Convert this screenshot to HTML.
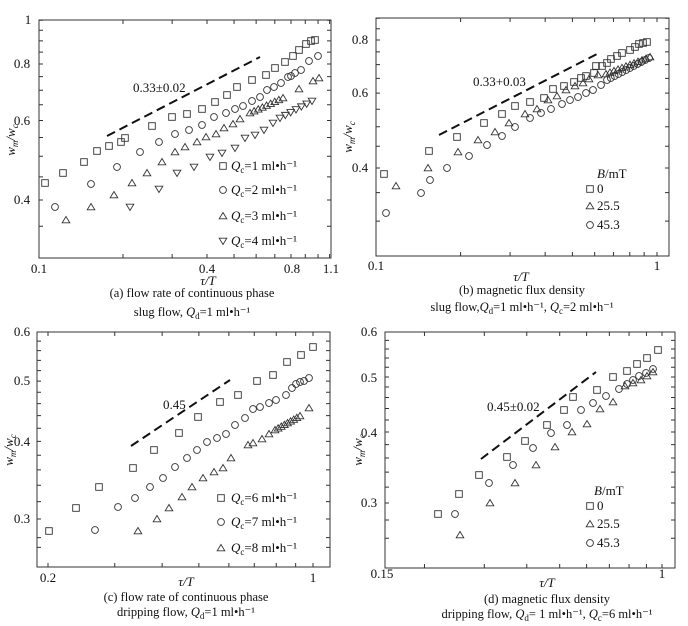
<!DOCTYPE html>
<html><head><meta charset="utf-8"><style>
html,body{margin:0;padding:0;background:#fff}
svg{display:block;font-family:"Liberation Serif",serif;}
text{fill:#111}
</style></head><body>
<svg id="s" width="688" height="626" viewBox="0 0 688 626" xmlns="http://www.w3.org/2000/svg">
<g fill="none" stroke="#333" stroke-width="1">
<rect x="39" y="20" width="292" height="238"/>
<rect x="376" y="18" width="293" height="238"/>
<rect x="37" y="332" width="293" height="235"/>
<rect x="385" y="332" width="290" height="236"/>
</g>
<g font-size="13" text-anchor="middle">
<!-- a -->
<text x="28" y="24">1</text><text x="22" y="68">0.8</text><text x="22" y="125">0.6</text><text x="22" y="204">0.4</text>
<text x="39" y="273">0.1</text><text x="207" y="273">0.4</text><text x="292" y="273">0.8</text><text x="331" y="273">1.1</text>
<text x="208" y="285" font-style="italic">τ/<tspan>T</tspan></text>
<text x="192" y="297" font-size="12.5">(a) flow rate of continuous phase</text>
<text x="192" y="316" font-size="12.5">slug flow, <tspan font-style="italic">Q</tspan><tspan font-size="9" dy="3">d</tspan><tspan dy="-3">=1  ml•h⁻¹</tspan></text>
<text transform="translate(15,140) rotate(-90)" font-style="italic">w<tspan font-size="9" dy="3">m</tspan><tspan dy="-3">/w</tspan><tspan font-size="9" dy="3">c</tspan></text>
<text x="133" y="92" text-anchor="start">0.33±0.02</text>
<!-- b -->
<text x="360" y="44">0.8</text><text x="360" y="97">0.6</text><text x="360" y="172">0.4</text>
<text x="376" y="270">0.1</text><text x="657" y="270">1</text>
<text x="521" y="281" font-style="italic">τ/T</text>
<text x="522" y="294" font-size="12.5">(b) magnetic flux density</text>
<text x="522" y="311" font-size="12.5">slug flow,<tspan font-style="italic">Q</tspan><tspan font-size="9" dy="3">d</tspan><tspan dy="-3">=1  ml•h⁻¹, </tspan><tspan font-style="italic">Q</tspan><tspan font-size="9" dy="3">c</tspan><tspan dy="-3">=2  ml•h⁻¹</tspan></text>
<text transform="translate(352,137) rotate(-90)" font-style="italic">w<tspan font-size="9" dy="3">m</tspan><tspan dy="-3">/w</tspan><tspan font-size="9" dy="3">c</tspan></text>
<text x="473" y="86" text-anchor="start">0.33+0.03</text>
<text x="597" y="178" text-anchor="start"><tspan font-style="italic">B</tspan>/mT</text>
<text x="597" y="193" text-anchor="start">0</text><text x="597" y="210" text-anchor="start">25.5</text><text x="597" y="229" text-anchor="start">45.3</text>
<!-- c -->
<text x="22" y="336">0.6</text><text x="22" y="385">0.5</text><text x="22" y="446">0.4</text><text x="22" y="523">0.3</text>
<text x="48" y="582">0.2</text><text x="313" y="582">1</text>
<text x="186" y="586" font-style="italic">τ/T</text>
<text x="186" y="601" font-size="12.5">(c) flow rate of continuous phase</text>
<text x="186" y="616" font-size="12.5">dripping flow, <tspan font-style="italic">Q</tspan><tspan font-size="9" dy="3">d</tspan><tspan dy="-3">=1 ml•h⁻¹</tspan></text>
<text transform="translate(13,450) rotate(-90)" font-style="italic">w<tspan font-size="9" dy="3">m</tspan><tspan dy="-3">/w</tspan><tspan font-size="9" dy="3">c</tspan></text>
<text x="163" y="409" text-anchor="start">0.45</text>
<!-- d -->
<text x="369" y="336">0.6</text><text x="369" y="382">0.5</text><text x="369" y="437">0.4</text><text x="369" y="507">0.3</text>
<text x="382" y="578">0.15</text><text x="662" y="578">1</text>
<text x="547" y="587" font-style="italic">τ/T</text>
<text x="547" y="603" font-size="12.5">(d) magnetic flux density</text>
<text x="547" y="618" font-size="12.5">dripping flow, <tspan font-style="italic">Q</tspan><tspan font-size="9" dy="3">d</tspan><tspan dy="-3">= 1 ml•h⁻¹, </tspan><tspan font-style="italic">Q</tspan><tspan font-size="9" dy="3">c</tspan><tspan dy="-3">=6 ml•h⁻¹</tspan></text>
<text transform="translate(362,450) rotate(-90)" font-style="italic">w<tspan font-size="9" dy="3">m</tspan><tspan dy="-3">/w</tspan><tspan font-size="9" dy="3">c</tspan></text>
<text x="487" y="411" text-anchor="start">0.45±0.02</text>
<text x="594" y="495" text-anchor="start"><tspan font-style="italic">B</tspan>/mT</text>
<text x="597" y="510" text-anchor="start">0</text><text x="597" y="528" text-anchor="start">25.5</text><text x="597" y="547" text-anchor="start">45.3</text>
</g>
<g font-size="13">
<text x="231" y="170"><tspan font-style="italic">Q</tspan><tspan font-size="9" dy="3">c</tspan><tspan dy="-3">=1  ml•h⁻¹</tspan></text>
<text x="231" y="194"><tspan font-style="italic">Q</tspan><tspan font-size="9" dy="3">c</tspan><tspan dy="-3">=2  ml•h⁻¹</tspan></text>
<text x="231" y="220"><tspan font-style="italic">Q</tspan><tspan font-size="9" dy="3">c</tspan><tspan dy="-3">=3  ml•h⁻¹</tspan></text>
<text x="231" y="245"><tspan font-style="italic">Q</tspan><tspan font-size="9" dy="3">c</tspan><tspan dy="-3">=4  ml•h⁻¹</tspan></text>
<text x="231" y="502"><tspan font-style="italic">Q</tspan><tspan font-size="9" dy="3">c</tspan><tspan dy="-3">=6 ml•h⁻¹</tspan></text>
<text x="231" y="526"><tspan font-style="italic">Q</tspan><tspan font-size="9" dy="3">c</tspan><tspan dy="-3">=7 ml•h⁻¹</tspan></text>
<text x="231" y="552"><tspan font-style="italic">Q</tspan><tspan font-size="9" dy="3">c</tspan><tspan dy="-3">=8 ml•h⁻¹</tspan></text>
</g>
<g stroke="#111" stroke-width="2" stroke-dasharray="9,5" fill="none">
<line x1="107" y1="136" x2="260" y2="57"/>
<line x1="439" y1="135" x2="599" y2="53"/>
<line x1="131" y1="446" x2="230" y2="380"/>
<line x1="481" y1="459" x2="596" y2="372"/>
</g>
<g id="m" fill="none" stroke="#333" stroke-width="0.9"></g>
</svg>
<script>
var g=document.getElementById('m'),ns='http://www.w3.org/2000/svg';
function add(t,pts){for(var i=0;i<pts.length;i+=2){var x=pts[i],y=pts[i+1],e;
if(t=='s'){e=document.createElementNS(ns,'rect');e.setAttribute('x',x-3.3);e.setAttribute('y',y-3.3);e.setAttribute('width',6.6);e.setAttribute('height',6.6);}
else if(t=='c'){e=document.createElementNS(ns,'circle');e.setAttribute('cx',x);e.setAttribute('cy',y);e.setAttribute('r',3.4);}
else{e=document.createElementNS(ns,'polygon');var p=t=='t'?[x,y-3.5,x-3.8,y+2.8,x+3.8,y+2.8]:[x,y+3.5,x-3.8,y-2.8,x+3.8,y-2.8];e.setAttribute('points',p.join(' '));}
g.appendChild(e);}}
function cl(x0,y0,x1,y1,n){var a=[];for(var i=0;i<n;i++){a.push(x0+(x1-x0)*i/(n-1),y0+(y1-y0)*i/(n-1));}return a;}
// a
add('s',[45,183,63,173,84,162,97,151,109,146,121,142,125,138,152,126,172,117,187,114,202,109,215,102,227,95,237,87,252,80,266,75,275,68,285,62,293,56,299,50,306,44,311,41,315,40,223,166]);
add('c',[55,207,91,184,117,167,140,152,159,142,175,134,189,130,202,125,214,117,226,113,235,109,243,106,252,101,260,97,267,90,274,87,281,83,288,77,291,76,295,73,301,70,309,61,318,56,223,190]);
add('t',[66,220,91,207,114,195,132,183,147,173,162,162,175,152,185,147,197,142,206,137,216,134,224,128,233,124,240,119].concat(cl(250,113,283,98,9),[299,89,313,81,319,78,223,216]));
add('d',[130,207,159,189,177,173,194,167,210,157,222,153,235,148,245,138,255,135,264,130,273,123].concat(cl(280,118,312,101,7),[223,241]));
// b
add('s',[384,174,429,151,457,137,484,123,502,114,515,106,530,102,544,98,553,89,564,86,574,82,581,78,586,76,594,73,596,66,602,66,607,63,611,59,617,56,622,53,630,50,635,47,639,44,643,43,647,42,590,189]);
add('t',[396,186,428,168,458,152,478,140,495,132,509,123,525,114,537,109,548,100,557,96,566,90,575,86,583,83,589,79,598,75].concat(cl(606,74,650,57,12),[590,206]));
add('c',[386,213,421,193,430,180,447,168,469,156,487,145,502,136,515,127,530,118,541,113,551,109,562,104,570,100,578,97,586,93,593,90,601,85].concat(cl(607,80,649,58,12),[590,225]));
// c
add('s',[49,531,76,508,99,487,133,468,154,450,179,433,198,417,220,402,238,395,257,381,273,375,287,362,301,355,313,347,221,498]);
add('c',[95,530,118,507,135,498,150,487,163,478,175,467,187,458,197,450,207,442,217,438,226,434,235,425,245,418,253,409,260,407,269,403,276,400,286,395,292,388,296,384,300,382,304,381,309,378,221,522]);
add('t',[138,531,157,519,169,508,182,497,192,487,203,478,214,472,223,468,231,458,248,445,253,443,262,439,269,434].concat(cl(275,430,300,416,9),[309,408,221,548]));
// d
add('s',[438,514,459,494,479,475,507,457,525,441,547,425,564,410,573,397,597,390,613,377,627,371,637,364,647,358,658,350,590,506]);
add('c',[455,514,489,483,513,465,533,448,551,433,567,425,581,410,593,403,606,396,619,389,627,384,633,380,639,376,646,373,653,369,590,543]);
add('t',[460,535,490,503,515,483,536,465,555,447,572,432,587,424,600,409,613,402,625,386,633,383,641,380,647,376,653,372,590,524]);
// ticks
var tk=document.createElementNS(ns,'path'),d='';
function xt(xs,yb,yt){xs.forEach(function(x){d+='M'+x+' '+yb+'v-4M'+x+' '+yt+'v4';});}
function yt(ys,xl,xr){ys.forEach(function(y){d+='M'+xl+' '+y+'h4M'+xr+' '+y+'h-4';});}
function lg(a,b,A,B){return function(v){return A+(Math.log(v)-Math.log(a))/(Math.log(b)-Math.log(a))*(B-A);};}
var fa=lg(0.1,0.4,39,207);xt([0.1,0.2,0.3,0.4,0.5,0.6,0.7,0.8,0.9,1,1.1].map(fa),258,20);
var ga=lg(0.4,0.8,200,64);yt([0.35,0.4,0.45,0.5,0.55,0.6,0.65,0.7,0.75,0.8,0.85,0.9,0.95,1].map(ga),39,331);
var fb=lg(0.1,1,376,657);xt([0.1,0.2,0.3,0.4,0.5,0.6,0.7,0.8,0.9,1].map(fb),256,18);
var gb=lg(0.4,0.8,168,40);yt([0.3,0.35,0.4,0.45,0.5,0.55,0.6,0.65,0.7,0.75,0.8,0.85,0.9].map(gb).filter(function(y){return y>18&&y<256}),376,669);
var fc=lg(0.2,1,48,313);xt([0.2,0.3,0.4,0.5,0.6,0.7,0.8,0.9,1].map(fc),567,332);
var gc=lg(0.3,0.6,519,332);yt([0.27,0.28,0.3,0.32,0.34,0.36,0.38,0.4,0.42,0.44,0.46,0.48,0.5,0.52,0.54,0.56,0.58,0.6].map(gc).filter(function(y){return y>=332&&y<567}),37,330);
var fd=lg(0.15,1,382,662);xt([0.2,0.3,0.4,0.5,0.6,0.7,0.8,0.9,1].map(fd),568,332);
var gd=lg(0.3,0.6,503,332);yt([0.26,0.28,0.3,0.32,0.34,0.36,0.38,0.4,0.42,0.44,0.46,0.48,0.5,0.52,0.54,0.56,0.58,0.6].map(gd).filter(function(y){return y>=332&&y<568}),385,675);
tk.setAttribute('d',d);tk.setAttribute('stroke','#333');tk.setAttribute('fill','none');document.getElementById('s').appendChild(tk);
</script>
</body></html>
